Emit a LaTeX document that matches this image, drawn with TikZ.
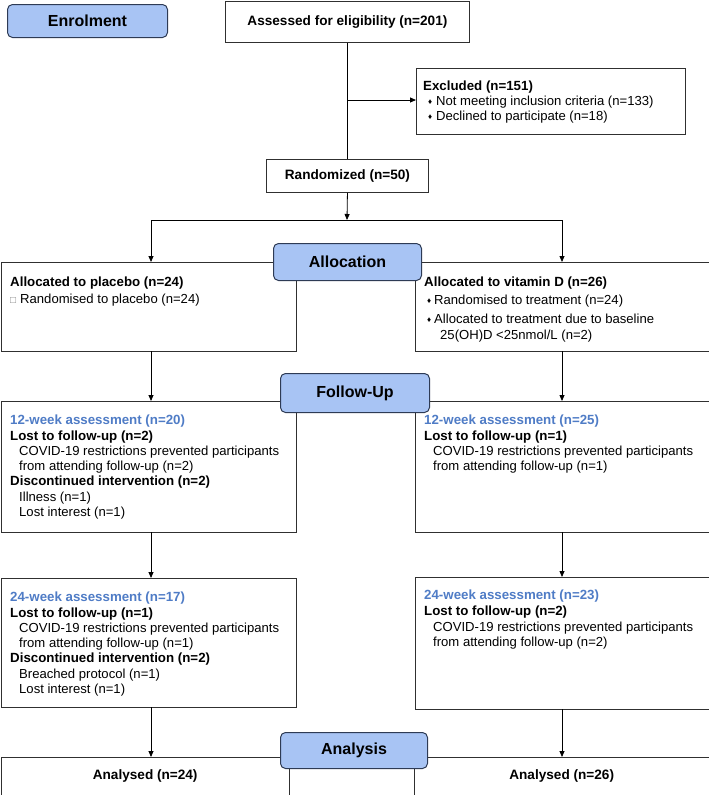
\documentclass[tikz,border=0pt]{standalone}
\usepackage{fontspec}
\setmainfont{Liberation Sans}
\usetikzlibrary{arrows.meta}
\definecolor{phasefill}{HTML}{A8C4F4}
\definecolor{phaseline}{HTML}{2E3B55}
\definecolor{ttl}{HTML}{4F7CC6}
\definecolor{bxline}{HTML}{303030}
\newcommand\mybox[6]{\node[boxst,#6,minimum width={(#4-#2)*1pt},minimum height={(#5-#3)*1pt}] (#1) at (#2,#3) {};}
\newcommand\dia{\makebox[7pt][l]{\raisebox{1.5pt}{\fontsize{8}{8}\selectfont ♦}}}
\newcommand\sq{\makebox[10pt][l]{\raisebox{0.5pt}{\color{gray}\fontsize{10}{10}\selectfont □}}}
\begin{document}
\begin{tikzpicture}[x=1pt,y=-1pt,
  boxst/.style={draw=bxline,line width=0.9pt,inner sep=0pt,anchor=north west,fill=white},
  tx/.style={anchor=base west,inner sep=0pt,font=\fontsize{13.1}{15}\selectfont},
  hd/.style={anchor=base west,inner sep=0pt,font=\bfseries\fontsize{13.3}{15}\selectfont},
  bt/.style={hd,text=ttl},
  ctr/.style={font=\bfseries\fontsize{13.6}{15}\selectfont},
  phase/.style={draw=phaseline,fill=phasefill,rounded corners=5pt,line width=1pt,
    inner sep=0pt,anchor=north west,font=\bfseries\fontsize{16}{18}\selectfont},
  ln/.style={draw=black,line width=0.8pt},
  arr/.style={ln,-{Triangle[length=6pt,width=5pt]}}]
\useasboundingbox (0,0) rectangle (709,795);

% main boxes
\node[boxst,ctr,minimum width=244pt,minimum height=41pt] (ass) at (225,0.6) {Assessed for eligibility (n=201)};
\mybox{exc}{416}{68}{685}{134}{}
\node[boxst,ctr,minimum width=162pt,minimum height=33pt] (ran) at (266,159) {Randomized (n=50)};

\mybox{alP}{0.5}{262}{296}{351}{}
\mybox{alV}{415}{262}{708.5}{351}{}
\mybox{fuP}{0.5}{401}{296}{532}{}
\mybox{fuV}{415}{401}{708.5}{532}{}
\mybox{twP}{0.5}{578}{296}{707}{}
\mybox{twV}{415}{577}{708.5}{709}{}
\node[boxst,ctr,minimum width=288.5pt,minimum height=37.5pt] (anP) at (0.5,757) {Analysed (n=24)};
\node[boxst,ctr,minimum width=294.5pt,minimum height=37.5pt] (anV) at (414,757) {Analysed (n=26)};

% texts: excluded
\node[hd] (e1) at (423,90.7) {Excluded (n=151)};
\node[tx] (e2) at (428,105.5) {\dia\hspace{1pt}Not meeting inclusion criteria (n=133)};
\node[tx] (e3) at (428,120.5) {\dia\hspace{1pt}Declined to participate (n=18)};

% allocation texts
\node[hd] (a1) at (10,286.7) {Allocated to placebo (n=24)};
\node[tx] (a2) at (10,303.7) {\sq Randomised to placebo (n=24)};
\node[hd] (b1) at (424,286.7) {Allocated to vitamin D (n=26)};
\node[tx] (b2) at (427,304.7) {\dia Randomised to treatment (n=24)};
\node[tx] (b3) at (427,323.7) {\dia Allocated to treatment due to baseline};
\node[tx] (b4) at (440,339.5) {25(OH)D <25nmol/L (n=2)};

% 12-week
\node[bt] (c1) at (10,424.7) {12-week assessment (n=20)};
\node[hd] (c2) at (10,440) {Lost to follow-up (n=2)};
\node[tx] (c3) at (19,455.3) {COVID-19 restrictions prevented participants};
\node[tx] (c4) at (19,470.6) {from attending follow-up (n=2)};
\node[hd] (c5) at (10,485.9) {Discontinued intervention (n=2)};
\node[tx] (c6) at (19,501.2) {Illness (n=1)};
\node[tx] (c7) at (19,516.5) {Lost interest (n=1)};

\node[bt] (d1) at (424,424.7) {12-week assessment (n=25)};
\node[hd] (d2) at (424,440) {Lost to follow-up (n=1)};
\node[tx] (d3) at (433,455.3) {COVID-19 restrictions prevented participants};
\node[tx] (d4) at (433,470.6) {from attending follow-up (n=1)};

% 24-week
\node[bt] (f1) at (10,601.7) {24-week assessment (n=17)};
\node[hd] (f2) at (10,617) {Lost to follow-up (n=1)};
\node[tx] (f3) at (19,632.3) {COVID-19 restrictions prevented participants};
\node[tx] (f4) at (19,647.6) {from attending follow-up (n=1)};
\node[hd] (f5) at (10,662.9) {Discontinued intervention (n=2)};
\node[tx] (f6) at (19,678.2) {Breached protocol (n=1)};
\node[tx] (f7) at (19,693.5) {Lost interest (n=1)};

\node[bt] (g1) at (424,599.7) {24-week assessment (n=23)};
\node[hd] (g2) at (424,615.5) {Lost to follow-up (n=2)};
\node[tx] (g3) at (433,631.3) {COVID-19 restrictions prevented participants};
\node[tx] (g4) at (433,646.6) {from attending follow-up (n=2)};

% connectors
\draw[ln] (ass.south) -- (ran.north);
\coordinate (j1) at (347,100);
\draw[arr] (j1) -- (j1 -| exc.west);
\coordinate (sp) at (347,220);
\draw[arr] (ran.south) -- (sp);
\coordinate (cl) at (151,220);
\coordinate (cr) at (562,220);
\draw[ln] (cl) -- (cr);
\draw[arr] (cl) -- (cl |- alP.north);
\draw[arr] (cr) -- (cr |- alV.north);
\coordinate (l1) at (151,351);
\coordinate (r1) at (562,351);
\draw[arr] (l1) -- (l1 |- fuP.north);
\draw[arr] (r1) -- (r1 |- fuV.north);
\coordinate (l2) at (151,532);
\coordinate (r2) at (562,532);
\draw[arr] (l2) -- (l2 |- twP.north);
\draw[arr] (r2) -- (r2 |- twV.north);
\coordinate (l3) at (151,707);
\coordinate (r3) at (562,709);
\draw[arr] (l3) -- (l3 |- anP.north);
\draw[arr] (r3) -- (r3 |- anV.north);

% phase labels
\node[phase,minimum width=160pt,minimum height=33pt] (enr) at (7,4) {Enrolment};
\node[phase,minimum width=148pt,minimum height=37pt] (alc) at (273,243) {Allocation};
\node[phase,minimum width=149pt,minimum height=39pt] (fol) at (280,373) {Follow-Up};
\node[phase,minimum width=147pt,minimum height=36pt] (ana) at (280,732) {Analysis};
\end{tikzpicture}
\end{document}
